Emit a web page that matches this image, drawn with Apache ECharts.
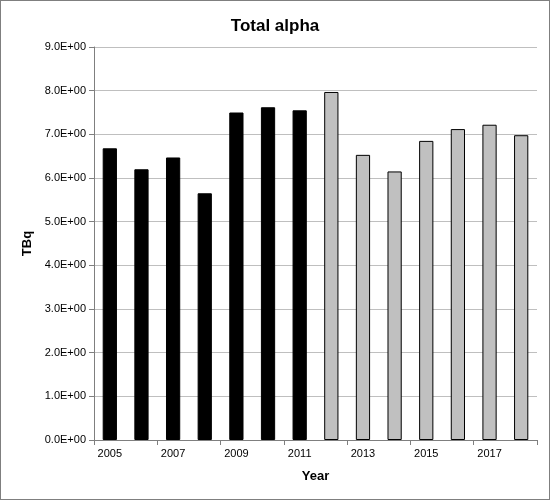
<!DOCTYPE html>
<html>
<head>
<meta charset="utf-8">
<script src="https://cdn.jsdelivr.net/npm/echarts@6/dist/echarts.min.js"></script>
<style>
  html, body { margin: 0; padding: 0; }
  #chart { width: 548px; height: 498px; border: 1px solid #7f7f7f; }
</style>
</head>
<body>
<div id="chart"></div>
<script>
var years = ['2005','2006','2007','2008','2009','2010','2011','2012','2013','2014','2015','2016','2017','2018'];
var values = [6.68, 6.2, 6.47, 5.65, 7.5, 7.62, 7.55, 7.97, 6.53, 6.15, 6.85, 7.12, 7.22, 6.98];
var lastBlackYear = '2011';

var myChart = echarts.init(document.getElementById('chart'));
var cut = years.indexOf(lastBlackYear);

var option = {
  backgroundColor: '#fff',
  title: {
    text: 'Total alpha',
    left: 'center',
    top: 12,
    textStyle: { fontFamily: 'Liberation Sans', fontSize: 17, fontWeight: 'bold', color: '#000' }
  },
  grid: { left: 93, right: 12, top: 46, bottom: 59 },
  xAxis: {
    type: 'category',
    data: years,
    name: 'Year',
    nameLocation: 'middle',
    nameGap: 30,
    nameTextStyle: { fontFamily: 'Liberation Sans', fontSize: 13, fontWeight: 'bold', color: '#000' },
    axisLine: { lineStyle: { color: '#7f7f7f' } },
    axisTick: { show: true, alignWithLabel: false, lineStyle: { color: '#7f7f7f' } },
    axisLabel: { fontFamily: 'Liberation Sans', fontSize: 11, color: '#000' }
  },
  yAxis: {
    type: 'value',
    min: 0,
    max: 9,
    interval: 1,
    name: 'TBq',
    nameLocation: 'middle',
    nameGap: 60,
    nameTextStyle: { fontFamily: 'Liberation Sans', fontSize: 13, fontWeight: 'bold', color: '#000' },
    axisLine: { show: true, lineStyle: { color: '#7f7f7f' } },
    axisTick: { show: true, inside: false, lineStyle: { color: '#7f7f7f' } },
    splitLine: { lineStyle: { color: '#bfbfbf' } },
    axisLabel: {
      fontFamily: 'Liberation Sans', fontSize: 11, color: '#000',
      formatter: function (v) { return v.toFixed(1) + 'E+00'; }
    }
  },
  series: [{
    type: 'bar',
    barWidth: '45%',
    data: values.map(function (v, i) {
      return i <= cut
        ? { value: v, itemStyle: { color: '#000', borderColor: '#000', borderWidth: 1 } }
        : { value: v, itemStyle: { color: '#c0c0c0', borderColor: '#000', borderWidth: 1 } };
    })
  }]
};
myChart.setOption(option);
</script>
</body>
</html>
